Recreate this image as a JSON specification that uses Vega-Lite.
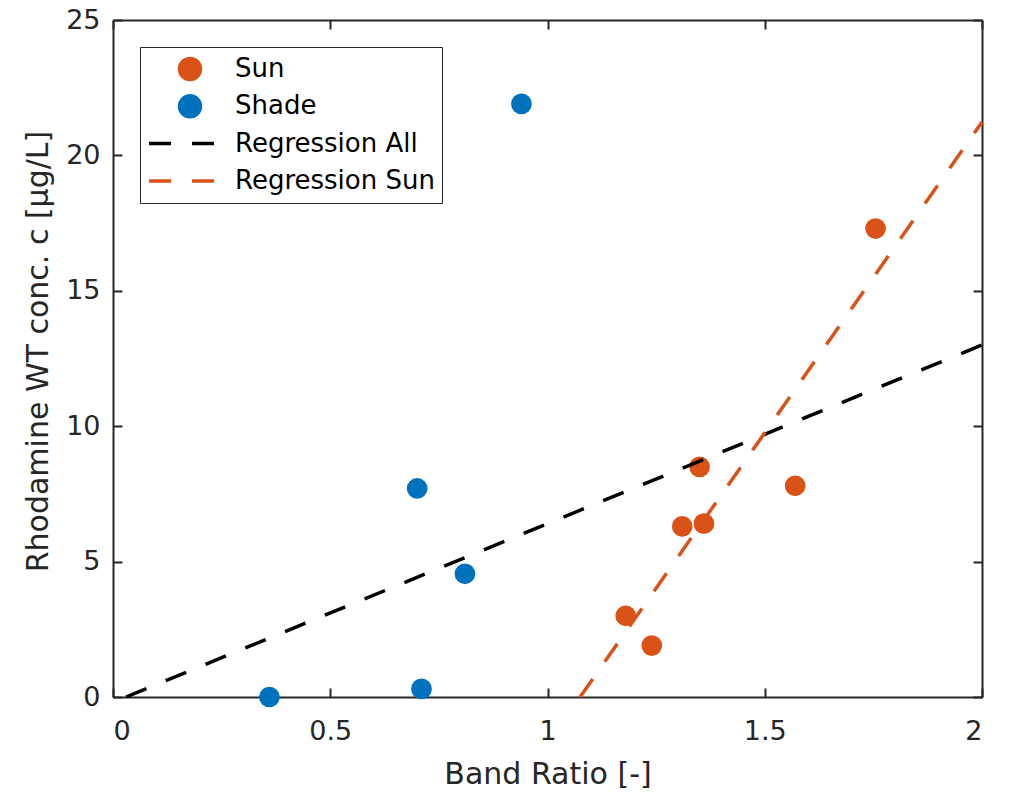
{
  "$schema": "https://vega.github.io/schema/vega-lite/v6.json",
  "width": 869,
  "height": 677,
  "autosize": {"type": "none"},
  "padding": {"left": 113, "top": 20, "right": 30, "bottom": 98},
  "background": "white",
  "config": {
    "view": {"stroke": null},
    "font": "DejaVu Sans",
    "axis": {
      "domainColor": "#262626", "domainWidth": 2,
      "tickColor": "#262626", "tickWidth": 2, "tickSize": -9,
      "grid": false,
      "labelColor": "#262626", "titleColor": "#262626",
      "labelFont": "DejaVu Sans", "titleFont": "DejaVu Sans",
      "labelFontSize": 27, "titleFontSize": 30, "titleFontWeight": "normal"
    }
  },
  "resolve": {"axis": {"x": "independent", "y": "independent"}},
  "datasets": {
    "pts": [
      {"series": "Sun", "ratio": 1.755, "conc": 17.3},
      {"series": "Sun", "ratio": 1.57, "conc": 7.8},
      {"series": "Sun", "ratio": 1.35, "conc": 8.5},
      {"series": "Sun", "ratio": 1.31, "conc": 6.3},
      {"series": "Sun", "ratio": 1.36, "conc": 6.4},
      {"series": "Sun", "ratio": 1.18, "conc": 3.0},
      {"series": "Sun", "ratio": 1.24, "conc": 1.9},
      {"series": "Shade", "ratio": 0.36, "conc": 0.0},
      {"series": "Shade", "ratio": 0.70, "conc": 7.7},
      {"series": "Shade", "ratio": 0.71, "conc": 0.3},
      {"series": "Shade", "ratio": 0.81, "conc": 4.55},
      {"series": "Shade", "ratio": 0.94, "conc": 21.9}
    ],
    "fits": [
      {"series": "Regression All", "ratio": 0.03, "conc": 0.0},
      {"series": "Regression All", "ratio": 2.0, "conc": 13.0},
      {"series": "Regression Sun", "ratio": 1.075, "conc": 0.0},
      {"series": "Regression Sun", "ratio": 2.0, "conc": 21.23}
    ]
  },
  "layer": [
    {
      "data": {"name": "pts"},
      "mark": {"type": "point", "filled": true, "shape": "circle", "size": 430, "opacity": 1},
      "encoding": {
        "x": {
          "field": "ratio", "type": "quantitative",
          "scale": {"domain": [0, 2], "nice": false, "zero": false},
          "axis": {"orient": "bottom", "values": [0, 0.5, 1, 1.5, 2], "format": "~g", "title": "Band Ratio [-]", "labelPadding": 30, "titlePadding": 15}
        },
        "y": {
          "field": "conc", "type": "quantitative",
          "scale": {"domain": [0, 25], "nice": false, "zero": false},
          "axis": {"orient": "left", "values": [0, 5, 10, 15, 20, 25], "title": "Rhodamine WT conc. c [μg/L]", "labelPadding": 22, "titlePadding": 12, "titleY": 331}
        },
        "color": {
          "field": "series", "type": "nominal",
          "scale": {"domain": ["Sun", "Shade", "Regression All", "Regression Sun"], "range": ["#D95319", "#0072BD", "#000000", "#D95319"]},
          "legend": {
            "title": null, "orient": "none", "legendX": 27, "legendY": 27,
            "padding": 7, "strokeColor": "#262626", "fillColor": "white",
            "labelFont": "DejaVu Sans", "labelFontSize": 26, "labelColor": "#000000", "labelLimit": 0,
            "symbolSize": 441, "symbolOffset": 30, "labelOffset": 32, "rowPadding": 7.3,
            "clipHeight": 30,
            "symbolStrokeWidth": 3.5,
            "symbolType": {"expr": "datum.value === 'Sun' || datum.value === 'Shade' ? 'M1,0A1,1 0 1,1 -1,0A1,1 0 1,1 1,0Z' : 'M-3.9,0H-1.81M0.19,0H2.29M0,-1M0,1'"},
            "symbolStrokeColor": {"expr": "datum.value === 'Regression Sun' ? '#D95319' : datum.value === 'Regression All' ? '#000000' : 'transparent'"}
          }
        }
      }
    },
    {
      "data": {"name": "fits"},
      "mark": {"type": "line", "strokeDash": [22, 21], "strokeWidth": 3.5, "strokeCap": "butt"},
      "encoding": {
        "x": {
          "field": "ratio", "type": "quantitative",
          "axis": {"orient": "top", "values": [0, 0.5, 1, 1.5, 2], "labels": false, "title": null}
        },
        "y": {
          "field": "conc", "type": "quantitative",
          "axis": {"orient": "right", "values": [0, 5, 10, 15, 20, 25], "labels": false, "title": null}
        },
        "color": {
          "field": "series", "type": "nominal",
          "scale": {"domain": ["Sun", "Shade", "Regression All", "Regression Sun"], "range": ["#D95319", "#0072BD", "#000000", "#D95319"]},
          "legend": null
        }
      }
    }
  ]
}
